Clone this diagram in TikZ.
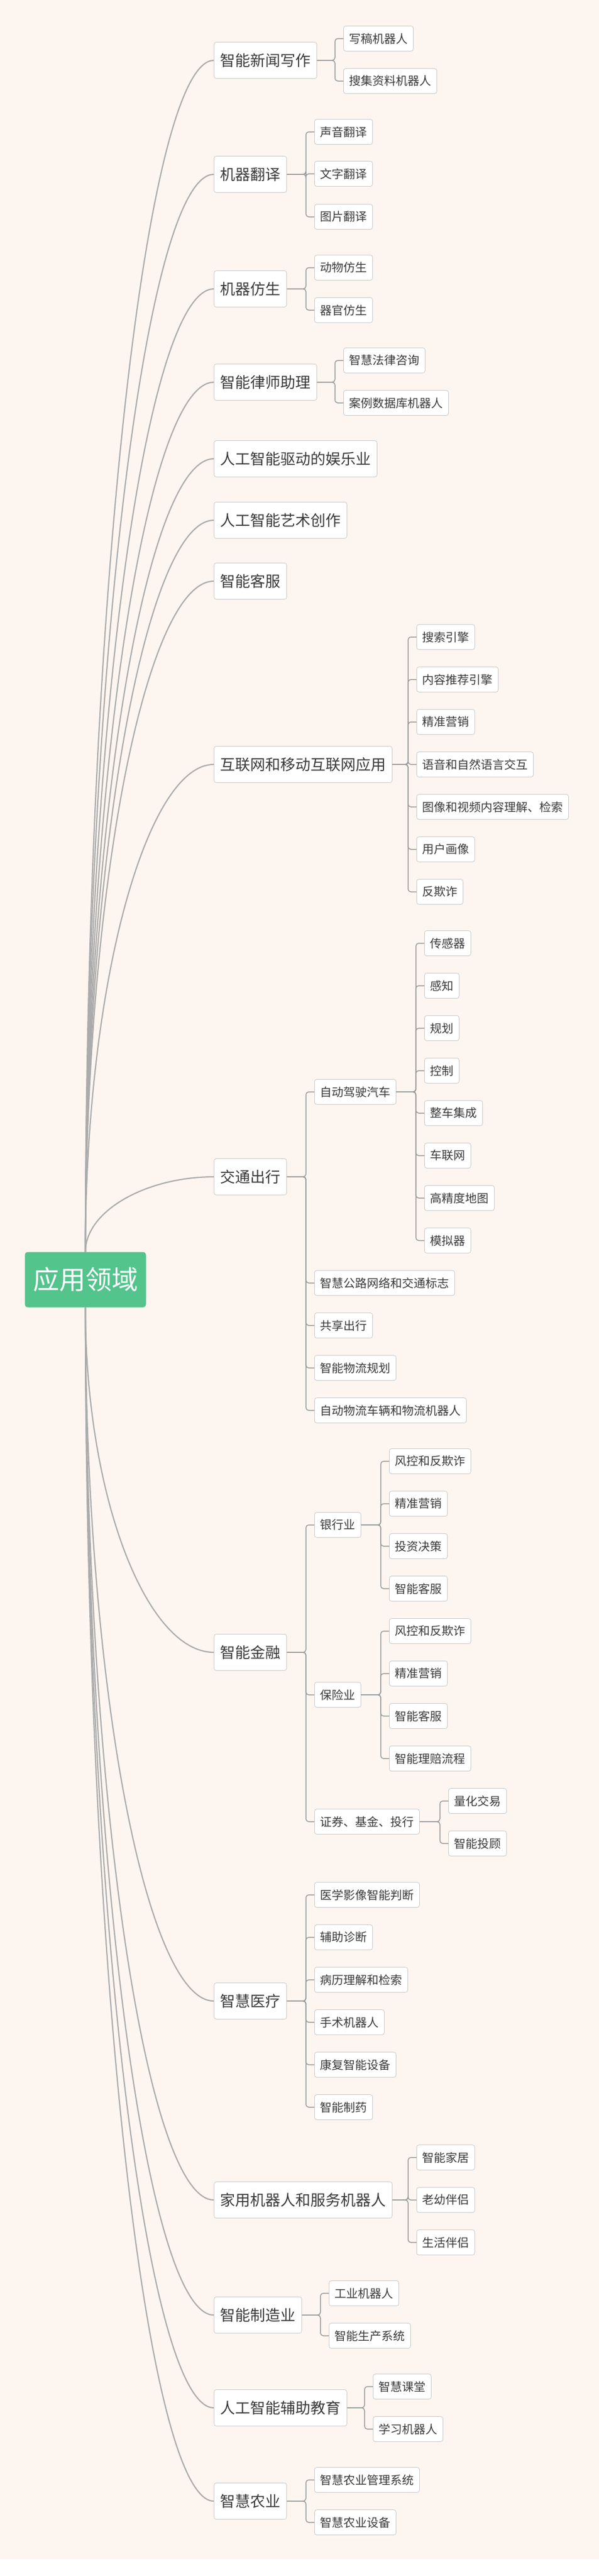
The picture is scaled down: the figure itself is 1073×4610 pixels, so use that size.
\documentclass[tikz,border=0pt]{standalone}
\usepackage{fontspec}
\setmainfont{Noto Sans CJK SC}
\usetikzlibrary{calc}
\definecolor{bg}{HTML}{FCF5F0}
\definecolor{boxc}{HTML}{C8C8C8}
\definecolor{txt}{HTML}{3A3A3A}
\definecolor{rootc}{HTML}{52C48C}
\definecolor{linec}{HTML}{ABABAB}
\definecolor{elbowc}{HTML}{9A9A9A}
\tikzset{
  l1/.style={draw=boxc, fill=white, rounded corners=4pt, text=txt, anchor=west,
    font=\fontsize{27}{32}\selectfont, minimum height=65, inner xsep=11, line width=0.8pt},
  l2/.style={draw=boxc, fill=white, rounded corners=4pt, text=txt, anchor=west,
    font=\fontsize{21}{25}\selectfont, minimum height=45, inner xsep=10, line width=0.8pt},
  branch/.style={draw=linec, line width=2.2pt},
  elbow/.style={draw=elbowc, line width=1.5pt, rounded corners=5pt},
}
% curved branches from the root
\newcommand\branchup[1]{\draw[branch] (root.north) .. controls ($(root.north)!0.55!(root.north |- #1.west)$) and ($(#1.west)+(-120,0)$) .. (#1.west);}
\newcommand\branchdn[1]{\draw[branch] (root.south) .. controls ($(root.south)!0.55!(root.south |- #1.west)$) and ($(#1.west)+(-120,0)$) .. (#1.west);}
% elbow from parent to child through spine coordinate
\newcommand\elb[3]{\draw[elbow] (#1.east) -- (#2 |- #1.east) |- (#3.west);}
\begin{document}
\begin{tikzpicture}[x=1pt, y=-1pt]
\useasboundingbox (0,0) rectangle (1073,4610);
\fill[white] (0,0) rectangle (1073,4610);
\fill[bg] (0,0) rectangle (1073,4580);

\node[draw=none, fill=rootc, rounded corners=5pt, text=white, minimum width=217, minimum height=99,
  font=\fontsize{47}{52}\selectfont] (root) at (153,2290) {应用领域};

% level one
\node[l1] (n1) at (383,108) {智能新闻写作};
\node[l1] (n2) at (383,312) {机器翻译};
\node[l1] (n3) at (383,517) {机器仿生};
\node[l1] (n4) at (383,684) {智能律师助理};
\node[l1] (n5) at (383,821) {人工智能驱动的娱乐业};
\node[l1] (n6) at (383,931) {人工智能艺术创作};
\node[l1] (n7) at (383,1040) {智能客服};
\node[l1] (n8) at (383,1368) {互联网和移动互联网应用};
\node[l1] (n9) at (383,2106) {交通出行};
\node[l1] (n10) at (383,2957) {智能金融};
\node[l1] (n11) at (383,3581) {智慧医疗};
\node[l1] (n12) at (383,3937) {家用机器人和服务机器人};
\node[l1] (n13) at (383,4143) {智能制造业};
\node[l1] (n14) at (383,4309) {人工智能辅助教育};
\node[l1] (n15) at (383,4476) {智慧农业};

\foreach \n in {n1,n2,n3,n4,n5,n6,n7,n8,n9} {\branchup{\n}}
\foreach \n in {n10,n11,n12,n13,n14,n15} {\branchdn{\n}}

% 智能新闻写作
\coordinate (s1) at (600,0);
\node[l2] (n1a) at (615,69) {写稿机器人};
\node[l2] (n1b) at (615,145) {搜集资料机器人};
\foreach \c in {n1a,n1b} {\elb{n1}{s1}{\c}}

% 机器翻译
\coordinate (s2) at (548,0);
\node[l2] (n2a) at (563,236) {声音翻译};
\node[l2] (n2b) at (563,311) {文字翻译};
\node[l2] (n2c) at (563,388) {图片翻译};
\foreach \c in {n2a,n2b,n2c} {\elb{n2}{s2}{\c}}

% 机器仿生
\node[l2] (n3a) at (563,479) {动物仿生};
\node[l2] (n3b) at (563,555) {器官仿生};
\foreach \c in {n3a,n3b} {\elb{n3}{s2}{\c}}

% 智能律师助理
\node[l2] (n4a) at (615,645) {智慧法律咨询};
\node[l2] (n4b) at (615,721) {案例数据库机器人};
\foreach \c in {n4a,n4b} {\elb{n4}{s1}{\c}}

% 互联网和移动互联网应用
\coordinate (s8) at (731,0);
\foreach \t [count=\i from 0] in {搜索引擎,内容推荐引擎,精准营销,语音和自然语言交互,图像和视频内容理解、检索,用户画像,反欺诈} {
  \node[l2] (n8-\i) at (746,1140+76*\i) {\t};
  \elb{n8}{s8}{n8-\i}
}

% 交通出行
\node[l2] (n9a) at (563,1954) {自动驾驶汽车};
\node[l2] (n9b) at (563,2296) {智慧公路网络和交通标志};
\node[l2] (n9c) at (563,2372) {共享出行};
\node[l2] (n9d) at (563,2448) {智能物流规划};
\node[l2] (n9e) at (563,2524) {自动物流车辆和物流机器人};
\foreach \c in {n9a,n9b,n9c,n9d,n9e} {\elb{n9}{s2}{\c}}
\coordinate (s9a) at (745,0);
\foreach \t [count=\i from 0] in {传感器,感知,规划,控制,整车集成,车联网,高精度地图,模拟器} {
  \node[l2] (n9a-\i) at (760,1688+76*\i) {\t};
  \elb{n9a}{s9a}{n9a-\i}
}

% 智能金融
\node[l2] (n10a) at (563,2729) {银行业};
\node[l2] (n10b) at (563,3033) {保险业};
\node[l2] (n10c) at (563,3260) {证券、基金、投行};
\foreach \c in {n10a,n10b,n10c} {\elb{n10}{s2}{\c}}
\coordinate (s10) at (682,0);
\foreach \t [count=\i from 0] in {风控和反欺诈,精准营销,投资决策,智能客服} {
  \node[l2] (n10a-\i) at (697,2615+76*\i) {\t};
  \elb{n10a}{s10}{n10a-\i}
}
\foreach \t [count=\i from 0] in {风控和反欺诈,精准营销,智能客服,智能理赔流程} {
  \node[l2] (n10b-\i) at (697,2919+76*\i) {\t};
  \elb{n10b}{s10}{n10b-\i}
}
\coordinate (s10c) at (788,0);
\node[l2] (n10c-0) at (803,3223) {量化交易};
\node[l2] (n10c-1) at (803,3299) {智能投顾};
\foreach \c in {n10c-0,n10c-1} {\elb{n10c}{s10c}{\c}}

% 智慧医疗
\foreach \t [count=\i from 0] in {医学影像智能判断,辅助诊断,病历理解和检索,手术机器人,康复智能设备,智能制药} {
  \node[l2] (n11-\i) at (563,3391+76*\i) {\t};
  \elb{n11}{s2}{n11-\i}
}

% 家用机器人和服务机器人
\foreach \t [count=\i from 0] in {智能家居,老幼伴侣,生活伴侣} {
  \node[l2] (n12-\i) at (746,3861+76*\i) {\t};
  \elb{n12}{s8}{n12-\i}
}

% 智能制造业
\coordinate (s13) at (574,0);
\node[l2] (n13a) at (589,4104) {工业机器人};
\node[l2] (n13b) at (589,4180) {智能生产系统};
\foreach \c in {n13a,n13b} {\elb{n13}{s13}{\c}}

% 人工智能辅助教育
\coordinate (s14) at (653,0);
\node[l2] (n14a) at (668,4271) {智慧课堂};
\node[l2] (n14b) at (668,4347) {学习机器人};
\foreach \c in {n14a,n14b} {\elb{n14}{s14}{\c}}

% 智慧农业
\node[l2] (n15a) at (563,4438) {智慧农业管理系统};
\node[l2] (n15b) at (563,4514) {智慧农业设备};
\foreach \c in {n15a,n15b} {\elb{n15}{s2}{\c}}
\end{tikzpicture}
\end{document}
